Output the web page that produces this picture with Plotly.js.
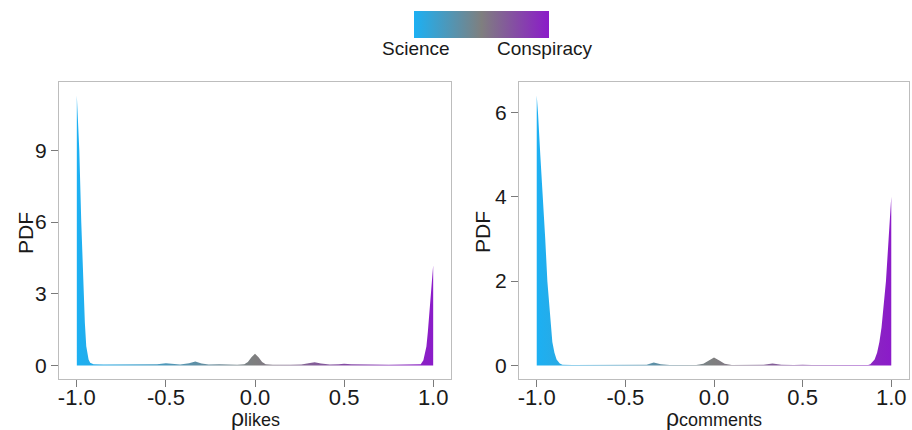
<!DOCTYPE html>
<html>
<head>
<meta charset="utf-8">
<script src="https://cdn.plot.ly/plotly-3.0.1.min.js"></script>
<style>html,body{margin:0;padding:0;background:#fff;}#chart{width:912px;height:430px;}</style>
</head>
<body>
<div id="chart"></div>
<script>
// ---- data ----
const xLikes = [-1.000,-0.995,-0.986,-0.975,-0.962,-0.955,-0.947,-0.940,-0.934,-0.925,-0.906,-0.85,-0.80,-0.70,-0.60,-0.55,-0.50,-0.47,-0.42,-0.37,-0.335,-0.30,-0.26,-0.20,-0.15,-0.10,-0.06,-0.04,-0.02,0.00,0.02,0.04,0.06,0.10,0.20,0.26,0.30,0.335,0.37,0.42,0.47,0.50,0.54,0.60,0.65,0.75,0.85,0.90,0.92,0.930,0.945,0.955,0.962,0.970,0.979,0.990,1.000];
const pdfLikes = [11.3,10.4,9.0,6.0,3.0,1.8,0.81,0.45,0.25,0.12,0.05,0.04,0.04,0.04,0.04,0.05,0.09,0.06,0.04,0.09,0.17,0.08,0.04,0.05,0.03,0.03,0.05,0.15,0.35,0.49,0.35,0.15,0.05,0.03,0.03,0.04,0.09,0.14,0.08,0.04,0.05,0.07,0.05,0.06,0.04,0.03,0.04,0.04,0.05,0.05,0.22,0.5,0.8,1.4,2.2,3.2,4.2];

const xComments = [-1.000,-0.993,-0.980,-0.965,-0.952,-0.940,-0.926,-0.912,-0.900,-0.888,-0.870,-0.855,-0.80,-0.70,-0.60,-0.55,-0.50,-0.45,-0.38,-0.34,-0.30,-0.25,-0.10,-0.06,-0.03,0.00,0.03,0.06,0.10,0.20,0.28,0.33,0.38,0.45,0.50,0.55,0.70,0.80,0.870,0.882,0.895,0.906,0.920,0.933,0.945,0.953,0.962,0.970,0.985,1.000];
const pdfComments = [6.4,6.0,5.0,4.0,3.0,2.0,1.2,0.56,0.3,0.14,0.05,0.02,0.01,0.01,0.01,0.015,0.025,0.015,0.02,0.07,0.03,0.01,0.01,0.04,0.12,0.19,0.12,0.04,0.01,0.01,0.02,0.05,0.02,0.01,0.02,0.01,0.01,0.01,0.01,0.03,0.08,0.14,0.3,0.56,0.9,1.25,1.6,2.0,3.0,4.0];

const xTickVals = [-1, -0.5, 0, 0.5, 1];
const xTickText = ['-1.0', '-0.5', '0.0', '0.5', '1.0'];
const yTickLikes = [0, 3, 6, 9];
const yTickComments = [0, 2, 4, 6];
const legendLabels = ['Science', 'Conspiracy'];
const xTitleSymbol = 'ρ';
const xTitleSubs = ['likes', 'comments'];
const yTitle = 'PDF';

const cBlue = '#1cb0f3', cGray = '#7f7f7f', cPurple = '#8b1bc9';
const scale = [[0, cBlue], [0.5, cGray], [1, cPurple]];
const FONT = 'Liberation Sans, Arial, sans-serif';
const TXT = '#1a1a1a';

function densityTrace(x, y, xa, ya) {
  return {
    type: 'scatter', mode: 'lines', x: x, y: y, xaxis: xa, yaxis: ya,
    fill: 'tozeroy',
    fillgradient: {type: 'horizontal', colorscale: scale, start: -1, stop: 1},
    line: {width: 0, color: 'rgba(0,0,0,0)', shape: 'linear'},
    hoverinfo: 'skip', showlegend: false
  };
}

const traces = [
  densityTrace(xLikes, pdfLikes, 'x', 'y'),
  densityTrace(xComments, pdfComments, 'x2', 'y2'),
  {
    type: 'scatter', mode: 'markers', x: [0], y: [-50], xaxis: 'x', yaxis: 'y',
    hoverinfo: 'skip', showlegend: false,
    marker: {
      size: 1, opacity: 0, color: [0], cmin: 0, cmax: 1, colorscale: scale, showscale: true,
      colorbar: {
        orientation: 'h', x: 481.5 / 912, xanchor: 'center', y: 1 - 11 / 430, yanchor: 'top',
        len: 135, lenmode: 'pixels', thickness: 27, thicknessmode: 'pixels',
        outlinewidth: 0, xpad: 0, ypad: 0,
        tickvals: [0, 1], ticktext: ['', ''], showticklabels: false,
        ticks: 'inside', tickcolor: '#ffffff', ticklen: 5, tickwidth: 1
      }
    }
  }
];

const axisCommon = {
  showline: true, mirror: true, linecolor: '#bdbdbd', linewidth: 1,
  showgrid: false, zeroline: false,
  ticks: 'outside', ticklen: 7, tickwidth: 1, tickcolor: '#7a7a7a',
  tickfont: {family: FONT, size: 21, color: TXT}
};
const xTickCommon = {
  tickvals: xTickVals, ticktext: xTickText,
  tickfont: {family: FONT, size: 22, color: TXT},
  ticklabelstandoff: -8
};

const yDom = [1 - 379 / 430, 1 - 82 / 430];
const px = v => v / 912, py = v => 1 - v / 430;

function ann(text, x, y, size, extra) {
  return Object.assign({
    text: text, xref: 'paper', yref: 'paper', x: px(x), y: py(y),
    xanchor: 'center', yanchor: 'middle', showarrow: false,
    font: {family: FONT, size: size, color: TXT}
  }, extra || {});
}
const xTitle = sub => xTitleSymbol + '<span style="font-size:18px">' + sub + '</span>';

const layout = {
  width: 912, height: 430,
  margin: {l: 0, r: 0, t: 0, b: 0},
  paper_bgcolor: '#ffffff', plot_bgcolor: '#ffffff',
  font: {family: FONT, color: TXT},
  showlegend: false,
  xaxis: Object.assign({}, axisCommon, xTickCommon, {
    domain: [px(59), px(451)], range: [-1.1, 1.1], anchor: 'y'
  }),
  yaxis: Object.assign({}, axisCommon, {
    domain: yDom, range: [-0.565, 11.865], anchor: 'x',
    tickvals: yTickLikes, ticktext: yTickLikes.map(String)
  }),
  xaxis2: Object.assign({}, axisCommon, xTickCommon, {
    domain: [px(519), px(909)], range: [-1.1, 1.1], anchor: 'y2'
  }),
  yaxis2: Object.assign({}, axisCommon, {
    domain: yDom, range: [-0.32, 6.72], anchor: 'x2',
    tickvals: yTickComments, ticktext: yTickComments.map(String)
  }),
  annotations: [
    ann(legendLabels[0], 416, 48, 19),
    ann(legendLabels[1], 545, 48, 19),
    ann(xTitle(xTitleSubs[0]), 255, 418, 23),
    ann(xTitle(xTitleSubs[1]), 714, 418, 23),
    ann(yTitle, 25, 233, 21, {textangle: -90}),
    ann(yTitle, 482, 232, 21, {textangle: -90})
  ]
};

Plotly.newPlot('chart', traces, layout, {staticPlot: true, displayModeBar: false});
</script>
</body>
</html>
